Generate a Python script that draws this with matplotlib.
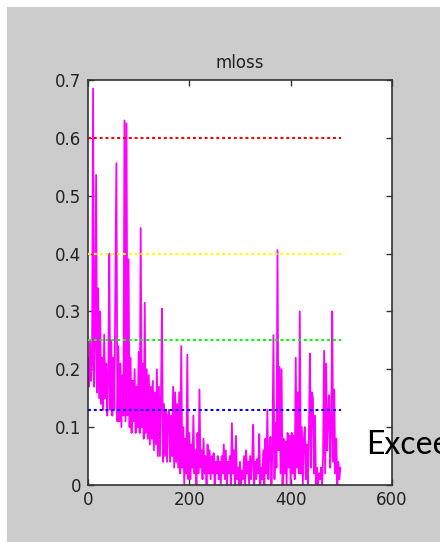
import matplotlib
matplotlib.use('Agg')
import matplotlib.pyplot as plt
import numpy as np
from matplotlib.patches import Rectangle

# training loss, logged every 2 iterations
iters = np.arange(0, 500, 2)
mloss = [
	0.22, 0.17, 0.25, 0.18, 0.21, 0.685, 0.17, 0.24, 0.536, 0.16,
	0.34, 0.15, 0.30, 0.14, 0.22, 0.13, 0.26, 0.15, 0.21, 0.12,
	0.19, 0.40, 0.13, 0.25, 0.12, 0.22, 0.13, 0.35, 0.556, 0.11,
	0.24, 0.11, 0.21, 0.10, 0.19, 0.12, 0.63, 0.11, 0.625, 0.12,
	0.39, 0.10, 0.22, 0.09, 0.18, 0.11, 0.20, 0.09, 0.17, 0.10,
	0.23, 0.09, 0.444, 0.10, 0.21, 0.08, 0.315, 0.09, 0.20, 0.08,
	0.19, 0.07, 0.17, 0.08, 0.18, 0.06, 0.16, 0.07, 0.20, 0.05,
	0.17, 0.05, 0.15, 0.305, 0.04, 0.14, 0.05, 0.13, 0.04, 0.12,
	0.13, 0.04, 0.12, 0.05, 0.17, 0.03, 0.16, 0.04, 0.14, 0.03,
	0.16, 0.02, 0.24, 0.03, 0.10, 0.00, 0.08, 0.02, 0.225, 0.01,
	0.09, 0.01, 0.07, 0.03, 0.12, 0.02, 0.06, 0.00, 0.09, 0.02,
	0.165, 0.03, 0.06, 0.01, 0.08, 0.02, 0.05, 0.00, 0.07, 0.02,
	0.06, 0.01, 0.05, 0.02, 0.055, 0.00, 0.04, 0.02, 0.05, 0.01,
	0.04, 0.00, 0.05, 0.02, 0.07, 0.01, 0.06, 0.00, 0.04, 0.02,
	0.05, 0.00, 0.107, 0.02, 0.06, 0.00, 0.085, 0.01, 0.03, 0.00,
	0.04, 0.00, 0.025, 0.01, 0.05, 0.00, 0.06, 0.02, 0.04, 0.00,
	0.05, 0.01, 0.045, 0.104, 0.00, 0.04, 0.01, 0.045, 0.02, 0.088,
	0.00, 0.03, 0.01, 0.06, 0.00, 0.08, 0.02, 0.13, 0.01, 0.06,
	0.083, 0.00, 0.06, 0.259, 0.01, 0.107, 0.03, 0.406, 0.06, 0.204,
	0.02, 0.20, 0.00, 0.08, 0.02, 0.075, 0.00, 0.09, 0.03, 0.085,
	0.00, 0.09, 0.02, 0.085, 0.01, 0.22, 0.03, 0.16, 0.02, 0.30,
	0.02, 0.10, 0.00, 0.08, 0.10, 0.01, 0.07, 0.00, 0.09, 0.227,
	0.03, 0.16, 0.15, 0.02, 0.12, 0.00, 0.03, 0.00, 0.02, 0.01,
	0.03, 0.00, 0.05, 0.232, 0.02, 0.21, 0.06, 0.12, 0.155, 0.03,
	0.10, 0.30, 0.04, 0.165, 0.02, 0.08, 0.00, 0.04, 0.01, 0.03,
]

# threshold levels
levels = [0.6, 0.4, 0.25, 0.13]
level_colors = ['#ff0000', '#ffff00', '#00ff00', '#0000ff']
level_end = 500

yticks = [0, 0.1, 0.2, 0.3, 0.4, 0.5, 0.6, 0.7]
ytick_labels = ['0', '0.1', '0.2', '0.3', '0.4', '0.5', '0.6', '0.7']
xticks = [0, 200, 400, 600]

W, H = 440, 542
fig = plt.figure(figsize=(W / 100., H / 100.), dpi=100)
fig.patch.set_facecolor('white')
# gray window area, white strip along top and left
fig.patches.append(Rectangle((7. / W, 0), 1, 1 - 7. / H, transform=fig.transFigure,
	facecolor='#cccccc', edgecolor='none', zorder=-10))

ax = fig.add_axes([88. / W, 1 - 485. / H, 304. / W, 405. / H])
ax.set_facecolor('white')

ax.plot(iters, mloss, color='#ff00ff', lw=1.3, zorder=2)
for v, c in zip(levels, level_colors):
	ax.plot([0, level_end], [v, v], color=c, lw=1.5, linestyle=(0, (1.4, 1.4)), zorder=3)

ax.set_xlim(0, 600)
ax.set_ylim(0, 0.7)
ax.set_xticks(xticks)
ax.set_xticklabels([str(t) for t in xticks])
ax.set_yticks(yticks)
ax.set_yticklabels(ytick_labels)
ax.tick_params(direction='in', length=4, width=1, colors='#333333',
	top=True, right=True, labelsize=12, labelcolor='#222222')
ax.tick_params(axis='x', pad=4)
ax.tick_params(axis='y', pad=5)
for s in ax.spines.values():
	s.set_color('#333333')
	s.set_linewidth(1.2)

ax.set_title('mloss', fontsize=12, color='#222222', pad=9)

fig.text(366. / W, 1 - 445. / H, 'Excee', fontsize=23, family=['Lato', 'DejaVu Sans'],
	color='black', va='center', ha='left')

fig.savefig('out.png', dpi=100)
